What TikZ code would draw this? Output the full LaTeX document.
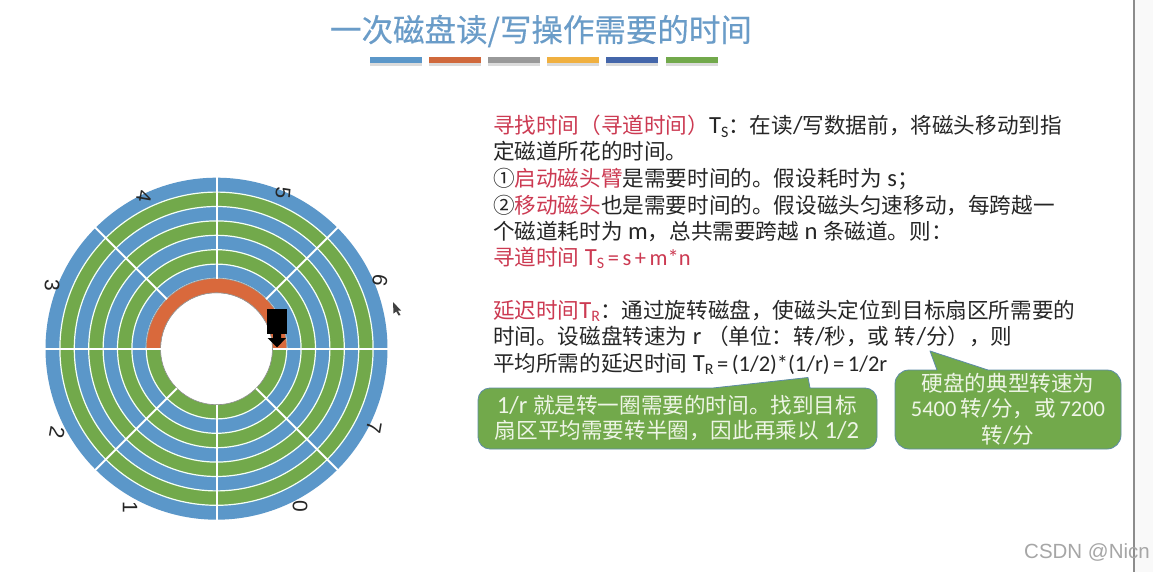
\documentclass[tikz,border=0pt]{standalone}
\usepackage{fontspec}
\setmainfont{Noto Sans CJK SC}
\newfontfamily\ttlfont[FakeBold=0.35]{Noto Sans CJK SC}
\newfontfamily\lat[Scale=1.14]{Carlito}
\newfontfamily\latn[Scale=1.04,WordSpace=0.7]{Carlito}
\newfontfamily\arial{Liberation Sans}
\definecolor{dblue}{HTML}{5B97C9}
\definecolor{dgreen}{HTML}{72A94B}
\definecolor{dorange}{HTML}{D9693C}
\definecolor{tred}{HTML}{CC3A52}
\definecolor{tblack}{HTML}{262626}
\definecolor{ttitle}{HTML}{6A9CC8}
\definecolor{cedge}{HTML}{5E8CA6}
\definecolor{ctext}{HTML}{EEF5E6}
\newcommand{\subs}[1]{\raisebox{-3.5pt}{\lat\fontsize{14}{14}\selectfont #1}}
\newcommand{\rd}[1]{\textcolor{tred}{#1}}
\newcommand{\La}[1]{{\lat #1}}
\newcommand{\Ln}[1]{{\latn #1}}
\tikzset{
  x=1pt,y=-1pt,
  body/.style={anchor=base west,inner sep=0pt,outer sep=0pt,text=tblack,font=\fontsize{21.6}{25}\selectfont},
  callout/.style={fill=dgreen,draw=cedge,line width=0.8pt,line join=round},
  ctxt/.style={anchor=center,inner sep=0pt,text=ctext,font=\fontsize{21.6}{25}\selectfont},
  sect/.style={draw=white,line width=2pt},
  trk/.style={draw=white!96!green,line width=1.2pt},
  digit/.style={inner sep=0pt,text=tblack,font=\arial\fontsize{21}{21}\selectfont},
}
\begin{document}
\begin{tikzpicture}
\useasboundingbox (0,0) rectangle (1153,572);
\fill[white] (0,0) rectangle (1153,572);
\fill[black!2.5] (1134,0) rectangle (1153,572);
\draw[black!45,line width=2pt] (1134,0) -- (1134,572);

% title
\node[inner sep=0pt,text=ttitle,font=\ttlfont\fontsize{31.5}{36}\selectfont] (title) at (541,31) {一次磁盘读/写操作需要的时间};
\foreach \xx/\cc [count=\i] in {370/5B97C9,429/D0693C,488/999999,547/F0B040,606/4466AA,666/72A94B}{
  \definecolor{bc}{HTML}{\cc}
  \fill[black!14] (\xx,62) rectangle ++(52,4);
  \fill[bc] (\xx,57) rectangle ++(52,6);
}

% disk
\begin{scope}[shift={(216.5,348.7)}]
  \foreach \r/\c in {171/dblue,156.6/dgreen,142.2/dblue,127.8/dgreen,113.4/dblue,99/dgreen,84.6/dblue,70.2/dgreen}{
    \fill[\c] (0,0) circle (\r pt);
  }
  \foreach \r in {156.6,142.2,127.8,113.4,99,84.6,70.2}{
    \draw[trk] (0,0) circle (\r pt);
  }
  \fill[white] (0,0) circle (56pt);
  \draw[black!45,line width=0.6pt] (0,0) circle (56pt);
  % orange half ring
  \filldraw[fill=dorange,draw=black!40,line width=0.6pt]
    (0:56pt) arc[start angle=0,end angle=180,radius=56pt] -- (180:70.2pt)
    arc[start angle=180,end angle=0,radius=70.2pt] -- cycle;
  % sector lines
  \foreach \a in {45,90,135}{ \draw[sect] (\a:70pt) -- (\a:172pt); }
  \foreach \a in {0,180,225,270,315}{ \draw[sect] (\a:56pt) -- (\a:172pt); }
\end{scope}

% sector numbers
\node[digit,rotate=-95] (n5) at (283,193) {5};
\node[digit,rotate=-100] (n4) at (144,197) {4};
\node[digit,rotate=-90] (n3) at (52,285) {3};
\node[digit,rotate=-100] (n6) at (380,281) {6};
\node[digit,rotate=-100] (n7) at (374,428) {7};
\node[digit,rotate=-90] (n0) at (300,506) {0};
\node[digit,rotate=-90] (n1) at (130,507) {1};
\node[digit,rotate=-100] (n2) at (57,433) {2};

% head
\fill[black] (266.7,309) rectangle (287.3,334);
\fill[black] (273,334) -- (281,334) -- (281,338) -- (286,338) -- (277,347.5) -- (267.5,338) -- (273,338) -- cycle;

% cursor
\fill[black!75] (393,302) -- (401,310.5) -- (397.8,310.5) -- (400.5,315) -- (398.6,315.5) -- (396.2,311.5) -- (393.5,313.5) -- cycle;

% text block 1
\node[body] (l1) at (493,134) {\rd{寻找时间（寻道时间）}\La{T}\subs{S}：在读\La{/}写数据前，将磁头移动到指};
\node[body] (l2) at (493,160) {定磁道所花的时间。};
\node[body] (l3) at (493,186) {①\rd{启动磁头臂}是需要时间的。假设耗时为\La{ s}；};
\node[body] (l4) at (493,213) {②\rd{移动磁头}也是需要时间的。假设磁头匀速移动，每跨越一};
\node[body] (l5) at (493,239) {个磁道耗时为\La{ m}，总共需要跨越\La{ n }条磁道。则：};
\node[body] (l6) at (493,265) {\rd{寻道时间\La{ T}\subs{S}\Ln{ = s + m*n}}};

% text block 2
\node[body] (l7) at (493,318) {\rd{延迟时间\La{T}\subs{R}}：通过旋转磁盘，使磁头定位到目标扇区所需要的};
\node[body] (l8) at (493,344) {时间。设磁盘转速为\La{ r }（单位：转\La{/}秒，或\La{ }转\La{/}分），则};
\node[body] (l9) at (493,371) {平均所需的延迟时间\La{ T}\subs{R}\Ln{ = (1/2)*(1/r) = 1/2r}};

% callouts
\draw[callout] (490,388) -- (713,388) -- (808,377.5) -- (810,388) -- (865,388)
  arc[start angle=90,end angle=0,radius=12pt] -- (877,437)
  arc[start angle=0,end angle=-90,radius=12pt] -- (490,449)
  arc[start angle=270,end angle=180,radius=12pt] -- (478,400)
  arc[start angle=180,end angle=90,radius=12pt] -- cycle;
\node[ctxt] (c1a) at (677,405) {\La{1/r }就是转一圈需要的时间。找到目标};
\node[ctxt] (c1b) at (677,431) {扇区平均需要转半圈，因此再乘以\La{ 1/2}};

\draw[callout] (909,370) -- (937,370) -- (930,351) -- (988,370) -- (1107,370)
  arc[start angle=90,end angle=0,radius=14pt] -- (1121,435)
  arc[start angle=0,end angle=-90,radius=14pt] -- (909,449)
  arc[start angle=270,end angle=180,radius=14pt] -- (895,384)
  arc[start angle=180,end angle=90,radius=14pt] -- cycle;
\node[ctxt] (c2a) at (1008,383) {硬盘的典型转速为};
\node[ctxt] (c2b) at (1008,409) {\Ln{5400 }转\La{/}分，或\Ln{ 7200}};
\node[ctxt] (c2c) at (1008,435) {转\La{/}分};

% watermark
\node[inner sep=0pt,text=black!35,font=\arial\fontsize{20.5}{22}\selectfont] (wm) at (1087,552) {CSDN @Nicn};
\end{tikzpicture}
\end{document}
